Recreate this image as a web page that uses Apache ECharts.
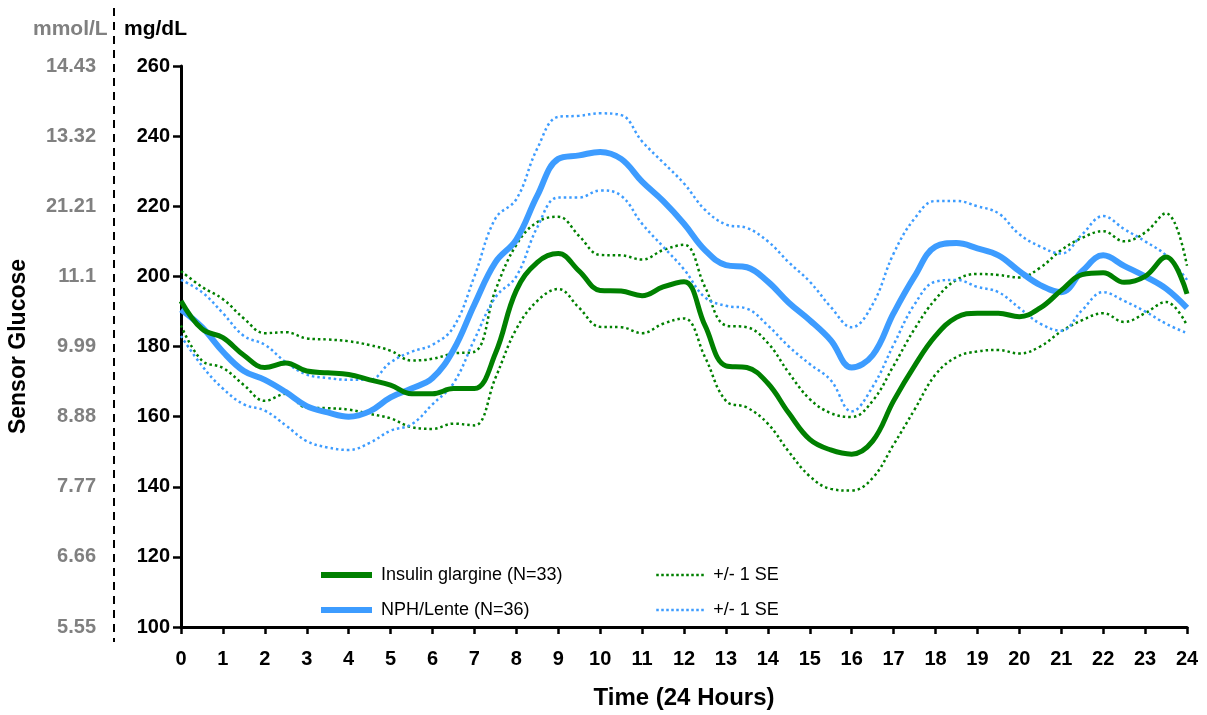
<!DOCTYPE html>
<html>
<head>
<meta charset="utf-8">
<script src="https://cdn.jsdelivr.net/npm/echarts@6/dist/echarts.min.js"></script>
<style>html,body{margin:0;padding:0;background:#fff}#c{width:1207px;height:715px}</style>
</head>
<body>
<div id="c"></div>
<script>
// Time in hours, half-hour steps
const hours = [0,0.5,1,1.5,2,2.5,3,3.5,4,4.5,5,5.5,6,6.5,7,7.5,8,8.5,9,9.5,10,10.5,11,11.5,12,12.5,13,13.5,14,14.5,15,15.5,16,16.5,17,17.5,18,18.5,19,19.5,20,20.5,21,21.5,22,22.5,23,23.5,24];

const glargineMean = [193,185,182.5,177.5,174,175.3,173,172.5,172,170.5,169,166.5,166.5,168,168,178,196,204,206.5,201.5,196,195.8,194.5,197,198.5,186,174.5,174,169.5,161,153.5,150.5,149.3,153,164.5,174.5,183,188.3,189.5,189.5,188.5,191,196,200.5,201,198.3,200,205.5,195];
const glargineUpper = [201.5,197,193.5,188,183.8,184.1,182.3,182,181.5,180.4,178.8,176,176.5,178,178.5,196,209,215.5,217,211.5,206.1,206,204.8,207.5,209,197,186,185.5,181,172.5,165,161,159.9,164.5,174.5,185,193.5,199,200.7,200.4,199.7,202.5,207.5,211,212.9,210,212.5,218,203];
const glargineLower = [186,176,173.9,169,164.5,166.5,162.5,162.4,162,160.8,159.5,157,156.5,158,157.5,171,185,193,196.4,191,185.6,185.5,183.8,186.5,188,177,164.5,162.6,158,150,143,139.4,138.9,142.5,152,162,172,177,178.6,179,178,180,184.3,187.5,189.5,187,189.5,192.7,186];

const nphMean = [190.5,185.5,178.5,173,170.5,167,163,161.2,160,161.5,165.5,168,171,179,192,204,210.5,223,233.5,234.5,235.5,233.5,227,221.5,215,207.5,203.2,202.6,198.5,192.5,187.5,181.8,174,177.5,189.5,200,208.5,209.5,208,206,201.5,197.5,195.5,201.5,206,203,200,196.5,191];
const nphUpper = [199,195.5,189.5,183,180.5,175.5,172,171,170.5,170.5,175.5,178.5,180.5,185.5,200,216.5,222,236.5,245.5,245.8,246.5,246,238.5,232.5,226.5,219,214.8,213.8,210,204,198.5,191.3,185.5,192,206.5,216.5,221.5,221.5,220,218,212,208.5,206.5,212,217.2,213.5,210,206,199];
const nphLower = [183,174.5,168,163.5,161.7,157.5,153,151.2,150.5,152.5,156,157.8,163.5,169.5,182,194,200,214,222.5,222.5,224.5,223,215,208.5,202,194,191.6,190.8,186,180,175,170.4,161.5,168.5,180.5,192,198.5,199,197,195.5,191,186.5,184.5,190.4,195.5,193,190,186.5,183.8];

const mgTicks = [100,120,140,160,180,200,220,240,260];
const mmolLabels = ["5.55","6.66","7.77","8.88","9.99","11.1","21.21","13.32","14.43"];

const GREEN = '#008000';
const BLUE = '#3d9cff';
const FONT = '"Liberation Sans", Arial, sans-serif';

function pairs(arr){ return hours.map((h,i)=>[h,arr[i]]); }

const chart = echarts.init(document.getElementById('c'), null, {renderer:'canvas'});

const dotted = (color)=>({color:color, width:2.5, type:[2.5,3]});

chart.setOption({
  animation:false,
  backgroundColor:'#fff',
  textStyle:{fontFamily:FONT},
  grid:{left:181, right:20, top:66, bottom:88, containLabel:false, outerBoundsMode:'none'},
  xAxis:{
    type:'value', min:0, max:24, interval:1,
    name:'Time (24 Hours)', nameLocation:'middle', nameGap:59,
    nameTextStyle:{fontFamily:FONT, fontWeight:'bold', fontSize:24, color:'#000'},
    axisLine:{show:true, onZero:false, lineStyle:{color:'#000', width:3}},
    axisTick:{show:true, inside:false, length:7, lineStyle:{color:'#000', width:2.5}},
    axisLabel:{fontFamily:FONT, fontWeight:'bold', fontSize:20, color:'#000', margin:22},
    splitLine:{show:false}
  },
  yAxis:[
    {
      type:'value', min:100, max:260, interval:20, position:'left',
      axisLine:{show:true, onZero:false, lineStyle:{color:'#000', width:3}},
      axisTick:{show:true, inside:false, length:8, lineStyle:{color:'#000', width:2.5}},
      axisLabel:{fontFamily:FONT, fontWeight:'bold', fontSize:20, color:'#000', margin:11},
      splitLine:{show:false}
    },
    {
      type:'value', min:100, max:260, interval:20, position:'left', offset:67,
      name:'Sensor Glucose', nameLocation:'middle', nameGap:84, nameRotate:90,
      nameTextStyle:{fontFamily:FONT, fontWeight:'bold', fontSize:23, color:'#000'},
      axisLine:{show:false},
      axisTick:{show:false},
      axisLabel:{fontFamily:FONT, fontWeight:'bold', fontSize:20, color:'#808080', margin:18,
        formatter:(v)=>mmolLabels[mgTicks.indexOf(v)]},
      splitLine:{show:false}
    }
  ],
  legend:[
    {
      orient:'vertical', left:313, top:561, itemWidth:51, itemHeight:14, itemGap:17,
      itemStyle:{opacity:0},
      textStyle:{fontFamily:FONT, fontSize:18, color:'#000', padding:[0,0,0,4]},
      data:[
        {name:'Insulin glargine (N=33)', lineStyle:{width:6, color:GREEN}},
        {name:'NPH/Lente (N=36)', lineStyle:{width:6, color:BLUE}}
      ]
    },
    {
      orient:'vertical', left:650, top:561, itemWidth:48, itemHeight:14, itemGap:17,
      itemStyle:{opacity:0},
      textStyle:{fontFamily:FONT, fontSize:18, color:'#000', padding:[0,0,0,4]},
      formatter:(n)=>n.trim(),
      data:[
        {name:'+/- 1 SE', lineStyle:{width:2.5, color:GREEN, type:[2.5,2.5]}},
        {name:'+/- 1 SE ', lineStyle:{width:2.5, color:BLUE, type:[2.5,2.5]}}
      ]
    }
  ],
  graphic:[
    {type:'line', shape:{x1:114, y1:8, x2:114, y2:642}, style:{stroke:'#000', lineWidth:2, lineDash:[8,6]}},
    {type:'text', left:33, top:19, style:{text:'mmol/L', font:'bold 21px "Liberation Sans", Arial, sans-serif', fill:'#808080'}},
    {type:'text', left:124, top:19, style:{text:'mg/dL', font:'bold 21px "Liberation Sans", Arial, sans-serif', fill:'#000'}}
  ],
  series:[
    {name:'+/- 1 SE', type:'line', data:pairs(glargineUpper), smooth:0.4, symbol:'none', lineStyle:dotted(GREEN), itemStyle:{color:GREEN}, z:2},
    {name:'+/- 1 SE', type:'line', data:pairs(glargineLower), smooth:0.4, symbol:'none', lineStyle:dotted(GREEN), itemStyle:{color:GREEN}, z:2},
    {name:'+/- 1 SE ', type:'line', data:pairs(nphUpper), smooth:0.4, symbol:'none', lineStyle:dotted(BLUE), itemStyle:{color:BLUE}, z:2},
    {name:'+/- 1 SE ', type:'line', data:pairs(nphLower), smooth:0.4, symbol:'none', lineStyle:dotted(BLUE), itemStyle:{color:BLUE}, z:2},
    {name:'NPH/Lente (N=36)', type:'line', data:pairs(nphMean), smooth:0.4, symbol:'none', lineStyle:{color:BLUE, width:6}, itemStyle:{color:BLUE}, z:3},
    {name:'Insulin glargine (N=33)', type:'line', data:pairs(glargineMean), smooth:0.4, symbol:'none', lineStyle:{color:GREEN, width:5}, itemStyle:{color:GREEN}, z:4}
  ]
});
</script>
</body>
</html>
